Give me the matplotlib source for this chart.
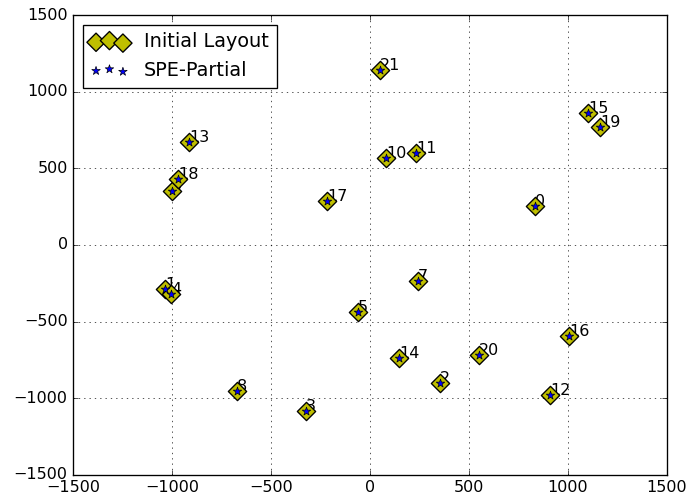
import matplotlib
matplotlib.use('Agg')
import matplotlib.pyplot as plt

plt.style.use('classic')

# node ids and positions (initial layout and SPE-partial coincide)
node_ids = [0, 1, 2, 3, 4, 5, 7, 8, 9, 10, 11, 12, 13, 14, 15, 16, 17, 18, 19, 20, 21]
x_pos = [833, -1035, 354, -323, -1005, -61, 242, -672, -1000, 81, 232, 909,
         -914, 148, 1102, 1005, -217, -970, 1161, 551, 50]
y_pos = [254, -287, -900, -1083, -320, -437, -235, -952, 352, 567, 600, -978,
         672, -739, 861, -594, 287, 430, 770, -718, 1141]

dpi = 96
fig = plt.figure(figsize=(686 / dpi, 501 / dpi), dpi=dpi, facecolor='white')
ax = fig.add_subplot(111)
fig.subplots_adjust(left=0.1064, right=0.9723, top=0.970, bottom=0.052)

# labels first so the markers sit on top of them
for i, x, y in zip(node_ids, x_pos, y_pos):
    ax.text(x, y, str(i), fontsize=12, zorder=2)

ax.scatter(x_pos, y_pos, s=94, c='y', marker='D', edgecolors='k',
           label='Initial Layout', zorder=4)
ax.scatter(x_pos, y_pos, s=45, c='b', marker='*', edgecolors='k',
           linewidths=0.5, label='SPE-Partial', zorder=5)

ax.set_xlim(-1500, 1500)
ax.set_ylim(-1500, 1500)
ax.grid(True)
ax.legend(loc='upper left')

fig.savefig('out.png', dpi=dpi, facecolor='white')
